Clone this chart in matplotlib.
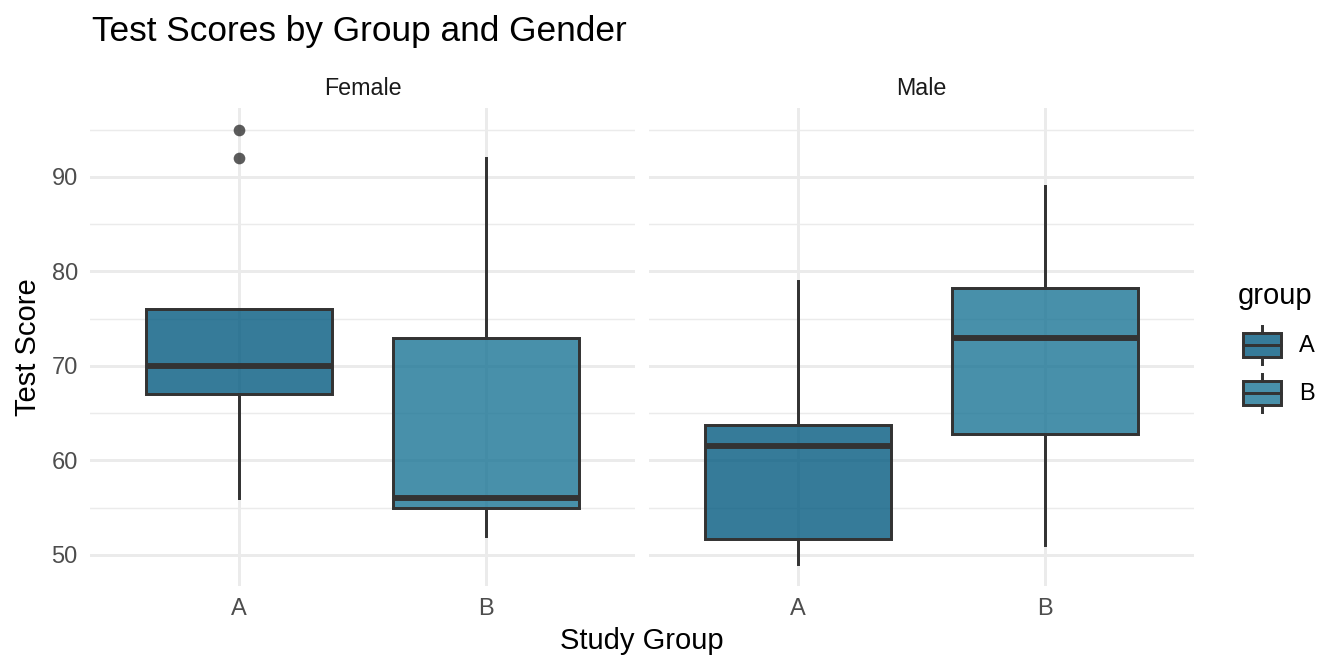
import matplotlib.pyplot as plt
from matplotlib.colors import to_rgba
from matplotlib.legend_handler import HandlerBase
from matplotlib.lines import Line2D
from matplotlib.patches import Patch, Rectangle

plt.rcParams['font.family'] = ['Liberation Sans', 'DejaVu Sans']

# data
groups = ['A', 'B']
genders = ['Female', 'Male']

female_q1 = [67, 55]
female_med = [70, 56]
female_q3 = [76, 73]
female_lo = [56, 52]
female_hi = [76, 92]
female_fliers = [[92, 95], []]

male_q1 = [51.7, 62.8]
male_med = [61.5, 73]
male_q3 = [63.7, 78.2]
male_lo = [49, 51]
male_hi = [79, 89]
male_fliers = [[], []]

y_major = [50, 60, 70, 80, 90]
y_minor = [45, 55, 65, 75, 85, 95]

fills = {'A': '#045a80', 'B': '#1a7595'}
edge = '#333333'
grid_col = '#ebebeb'
W, H = 1344, 672

fig = plt.figure(figsize=(6.72, 3.36), dpi=200)


def box_stats(q1, med, q3, lo, hi, fliers):
    return [dict(q1=q1[i], med=med[i], q3=q3[i], whislo=lo[i], whishi=hi[i],
                 fliers=fliers[i], label=groups[i]) for i in range(len(groups))]


panels = {
    'Female': box_stats(female_q1, female_med, female_q3, female_lo, female_hi, female_fliers),
    'Male': box_stats(male_q1, male_med, male_q3, male_lo, male_hi, male_fliers),
}

lefts = [90, 649]
pw = 545
top, bottom = 108, 586

for k, g in enumerate(genders):
    ax = fig.add_axes([lefts[k] / W, 1 - bottom / H, pw / W, (bottom - top) / H])
    ax.set_yticks(y_major)
    ax.set_yticks(y_minor, minor=True)
    ax.grid(True, which='major', color=grid_col, lw=1.07)
    ax.grid(True, which='minor', axis='y', color=grid_col, lw=0.53)
    ax.set_axisbelow(True)
    bp = ax.bxp(panels[g], positions=[1, 2], widths=0.75, patch_artist=True,
                showcaps=False,
                boxprops=dict(edgecolor=edge, linewidth=1.07),
                whiskerprops=dict(color=edge, linewidth=1.07),
                medianprops=dict(color=edge, linewidth=2.13, solid_capstyle='butt'),
                flierprops=dict(marker='o', markerfacecolor=edge, markeredgecolor=edge,
                                markersize=4.2, markeredgewidth=0, alpha=0.8))
    for patch, grp in zip(bp['boxes'], groups):
        patch.set_facecolor(to_rgba(fills[grp], 0.8))
    ax.set_xlim(0.4, 2.6)
    ax.set_ylim(46.7, 97.3)
    ax.set_xticks([1, 2], groups)
    for s in ax.spines.values():
        s.set_visible(False)
    ax.tick_params(which='both', length=0, labelsize=8.5, labelcolor='#4d4d4d')
    ax.tick_params(axis='x', pad=4.4)
    ax.tick_params(axis='y', pad=4.4)
    if k > 0:
        ax.tick_params(axis='y', labelleft=False)
    ax.set_title(g, fontsize=8.4, color='#1a1a1a', pad=4.8)

fig.text(92 / W, 1 - 41 / H, 'Test Scores by Group and Gender', fontsize=12.7,
         va='baseline', ha='left')
fig.text(642 / W, 1 - 641 / H, 'Study Group', fontsize=10.5, ha='center', va='center')
fig.text(28 / W, 1 - 347 / H, 'Test Score', fontsize=10.5, rotation=90,
         ha='center', va='center')


class BoxKey(HandlerBase):
    def create_artists(self, legend, orig, xd, yd, width, height, fontsize, trans):
        x0, y0 = -xd, -yd
        rect = Rectangle((x0 + width * 0.1, y0 + height * 0.25), width * 0.8, height * 0.5,
                         facecolor=orig.get_facecolor(), edgecolor=edge, lw=1.07,
                         transform=trans)
        cx = x0 + width / 2
        lo = Line2D([cx, cx], [y0 + height * 0.1, y0 + height * 0.25], color=edge,
                    lw=1.07, transform=trans)
        hi = Line2D([cx, cx], [y0 + height * 0.75, y0 + height * 0.9], color=edge,
                    lw=1.07, transform=trans)
        mid = Line2D([x0 + width * 0.1, x0 + width * 0.9],
                     [y0 + height * 0.5, y0 + height * 0.5], color=edge, lw=1.07,
                     transform=trans)
        return [lo, hi, rect, mid]


fig.text(1238 / W, 1 - 296 / H, 'group', fontsize=10.5, ha='left', va='center')
handles = [Patch(facecolor=to_rgba(fills[g], 0.8), label=g) for g in groups]
fig.legend(handles=handles, loc='upper left',
           bbox_to_anchor=(1238 / W, 1 - 321 / H), frameon=False,
           fontsize=8.5, handlelength=2.03, handleheight=2.74,
           labelspacing=0, handletextpad=0.55, borderpad=0, borderaxespad=0,
           handler_map={Patch: BoxKey()})

fig.savefig('out.png', dpi=200, facecolor='white')
